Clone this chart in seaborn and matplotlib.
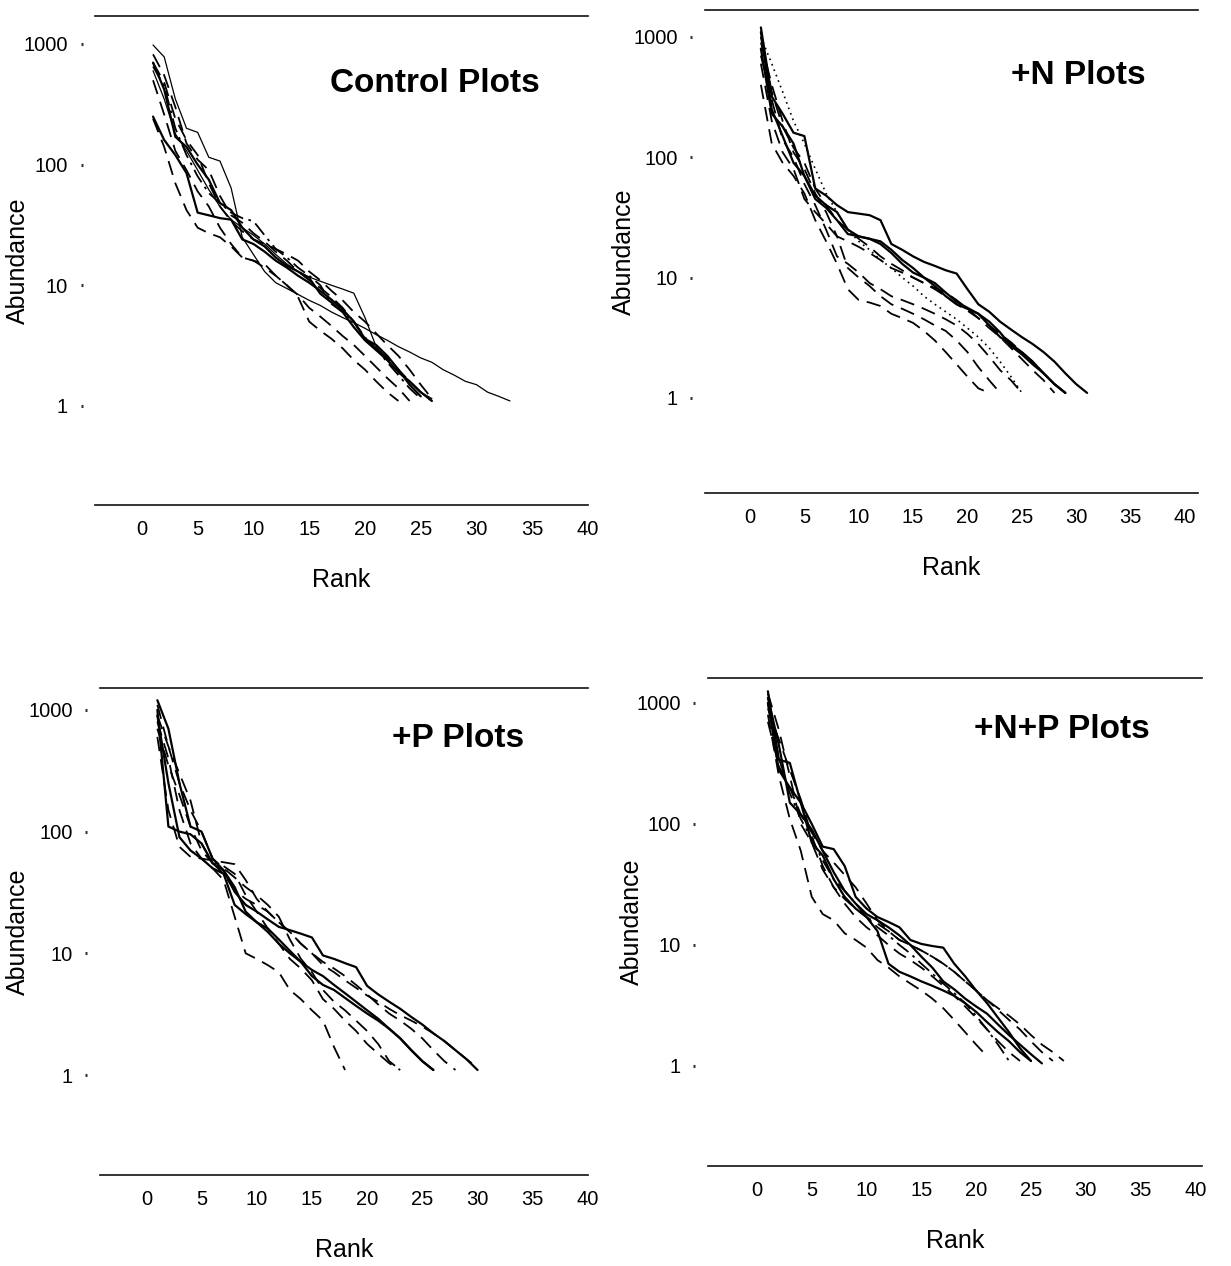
import matplotlib
matplotlib.use("Agg")
import matplotlib.pyplot as plt
import pandas as pd
import seaborn as sns

# ---------------------------------------------------------------------------
# Rank-abundance data: each inner list holds abundances for ranks 1, 2, 3, ...
# ---------------------------------------------------------------------------
PANEL_TITLES = ["Control Plots", "+N Plots", "+P Plots", "+N+P Plots"]
RANK_TICKS = [0, 5, 10, 15, 20, 25, 30, 35, 40]
ABUNDANCE_TICKS = [1, 10, 100, 1000]
ABUNDANCE_TICK_LABELS = ["1", "10", "100", "1000"]

CONTROL = [
    [980, 780, 350, 200, 185, 115, 107, 64, 25, 18, 13, 10.5, 9.4, 8.4, 7.5, 6.8, 6.0,
     5.4, 4.9, 4.4, 3.9, 3.5, 3.1, 2.8, 2.5, 2.3, 2.0, 1.8, 1.6, 1.5, 1.3, 1.2, 1.1],
    [700, 420, 170, 140, 100, 75, 48, 42, 30, 24, 21, 17, 14.5, 13, 11.5, 8.5, 7.2, 6.0,
     4.5, 3.5, 2.9, 2.4, 1.9, 1.6, 1.3, 1.1],
    [820, 550, 300, 150, 110, 90, 55, 38, 33, 27, 23, 19, 16, 13, 11, 9.5, 8.0, 6.5, 5.0,
     3.6, 3.0, 2.5, 2.0, 1.6, 1.3, 1.1],
    [600, 350, 180, 130, 90, 62, 45, 35, 30, 26, 22, 18, 15, 13, 11.7, 10.8, 10, 9.3, 8.6,
     5.4, 3.1, 2.4, 1.9, 1.6, 1.3, 1.15],
    [240, 140, 70, 42, 30, 27, 25, 21, 17, 16, 14, 12, 10, 8.3, 6.5, 5.5, 4.6, 3.8, 3.2,
     2.6, 2.1, 1.7, 1.4, 1.1],
    [250, 160, 120, 85, 40, 38, 36, 35, 24, 22, 19, 16, 14, 12, 10.5, 9, 7.6, 6.3, 5.0,
     3.6, 3.2, 2.6, 2.0, 1.5, 1.2],
    [650, 450, 200, 120, 80, 58, 48, 40, 36, 34, 26, 20, 17, 14, 12, 10, 7.0, 6.0, 5.0,
     3.7, 3.0, 2.3, 1.8, 1.4, 1.15],
    [500, 260, 130, 90, 60, 45, 30, 22, 17, 16, 15, 12, 10, 8, 5.0, 4.2, 3.6, 3.0, 2.4,
     2.0, 1.6, 1.3, 1.1],
    [700, 480, 240, 160, 120, 70, 45, 34, 28, 24, 22, 20, 18, 16, 13, 11, 9, 7.5, 6, 5, 4,
     3.2, 2.6, 2.0, 1.5, 1.15],
]
CONTROL_STYLES = ["thin", "solid", "dashed", "thin", "dashed", "solid", "dashdot", "dashed", "dashed"]

NITROGEN = [
    [1200, 320, 230, 160, 150, 55, 48, 40, 35, 34, 33, 30, 19, 17, 15, 13.5, 12.5, 11.5,
     10.8, 8.0, 6.0, 5.2, 4.3, 3.7, 3.2, 2.8, 2.4, 2.0, 1.6, 1.3, 1.1],
    [1100, 250, 150, 90, 70, 45, 38, 30, 23, 22, 21, 19, 16, 13, 11, 10, 9, 7.5, 6.3, 5.6,
     5.0, 4.3, 3.5, 2.7, 2.3, 1.9, 1.6, 1.3, 1.1],
    [900, 400, 200, 110, 80, 50, 35, 22, 20, 18, 16, 14, 12, 11, 10, 9, 8.2, 7.5, 6.5, 5.5,
     4.6, 3.8, 3.2, 2.6, 2.1, 1.7, 1.4, 1.1],
    [400, 130, 90, 70, 50, 30, 20, 13, 8, 6.5, 6.2, 5.8, 5.0, 4.6, 4.2, 3.6, 3.0, 2.4, 1.9,
     1.5, 1.2, 1.1],
    [700, 300, 140, 100, 60, 40, 25, 15, 13, 11, 9, 8, 7, 6.5, 6.0, 5.5, 5.0, 4.5, 4.0,
     3.4, 2.8, 2.2, 1.7, 1.4, 1.1],
    [1000, 350, 180, 120, 90, 55, 40, 30, 25, 21, 18, 15, 13, 11.5, 10, 9, 8, 7, 6, 5.3,
     4.6, 4.0, 3.4, 2.9, 2.4, 2.0, 1.6, 1.3, 1.1],
    [800, 230, 180, 130, 70, 48, 40, 35, 25, 22, 21, 20, 17, 14, 12, 10, 8.5, 7, 6, 5.5, 5,
     4, 3.2, 2.8, 2.4, 2.0, 1.6, 1.3, 1.1],
    [1000, 600, 350, 200, 130, 80, 50, 35, 25, 20, 17, 14, 12, 10, 8.5, 7.0, 6.0, 5.2,
     4.5, 3.8, 3.2, 2.6, 2.0, 1.5, 1.1],
    [600, 200, 110, 80, 45, 35, 28, 22, 12, 10, 8.5, 7, 6, 5.5, 5.0, 4.5, 4.0, 3.6, 3.0,
     2.4, 1.8, 1.4, 1.1],
]
NITROGEN_STYLES = ["solid", "solid", "dashed", "dashed", "dashed", "dashed", "solid", "dotted", "dashed"]

PHOSPHORUS = [
    [1200, 700, 250, 110, 100, 60, 48, 32, 25, 22, 19, 16.5, 15.5, 14.5, 13.5, 9.6, 9.0,
     8.3, 7.7, 5.4, 4.6, 4.0, 3.5, 3.0, 2.6, 2.2, 1.9, 1.6, 1.35, 1.1],
    [1000, 110, 100, 95, 80, 55, 48, 35, 22, 18, 15, 12, 10, 8.5, 7.3, 6.5, 5.5, 4.7, 4.0,
     3.4, 2.9, 2.4, 2.0, 1.6, 1.3, 1.1],
    [900, 500, 300, 180, 80, 55, 45, 33, 28, 25, 22, 18, 15, 12, 10, 8.0, 7.0, 6.0, 5.2,
     4.5, 4.0, 3.5, 3.1, 2.8, 2.5, 2.2, 1.9, 1.6, 1.35, 1.15],
    [800, 400, 150, 80, 60, 50, 40, 20, 10, 9, 8, 7, 5, 4.2, 3.4, 2.8, 1.7, 1.1],
    [700, 350, 200, 110, 70, 55, 52, 45, 30, 22, 16, 12, 9, 7.5, 6.0, 4.2, 3.5, 2.8, 2.3,
     1.8, 1.5, 1.25, 1.1],
    [900, 250, 90, 70, 60, 50, 45, 25, 21, 18, 16, 13, 10.5, 8.5, 6.5, 5.5, 5.0, 4.3, 3.7,
     3.2, 2.8, 2.4, 2.0, 1.6, 1.3, 1.1],
    [1100, 500, 250, 150, 100, 60, 50, 42, 35, 30, 25, 20, 13, 9, 7, 5, 4.0, 3.4, 2.8,
     2.3, 1.8, 1.3, 1.1],
    [600, 150, 75, 62, 60, 58, 56, 54, 40, 28, 22, 18, 15, 12, 10, 8.5, 7.5, 6.5, 5.5,
     4.6, 3.8, 3.2, 2.8, 2.4, 2.0, 1.6, 1.3, 1.1],
]
PHOSPHORUS_STYLES = ["solid", "solid", "dashed", "dashed", "dashed", "solid", "dashed", "dashed"]

NITROGEN_PHOSPHORUS = [
    [1250, 340, 320, 150, 100, 65, 62, 45, 25, 20, 17, 15.5, 14, 11, 10.2, 9.8, 9.5, 7.0,
     5.5, 4.2, 3.3, 2.5, 1.9, 1.4, 1.1],
    [1100, 450, 150, 120, 90, 60, 40, 28, 22, 18, 16, 14, 12, 10, 8, 6.5, 5, 4.3, 3.6,
     3.1, 2.7, 2.2, 1.8, 1.5, 1.25, 1.05],
    [900, 500, 280, 160, 80, 45, 30, 24, 20, 17, 15, 13, 11, 10, 9.0, 8.0, 7.0, 6.0, 5.0,
     4.2, 3.5, 3.0, 2.6, 2.2, 1.8, 1.5, 1.3, 1.1],
    [800, 250, 110, 60, 25, 18, 16, 12.5, 11, 9.5, 7.5, 6.5, 5.5, 4.8, 4.2, 3.6, 3.0,
     2.4, 1.9, 1.5, 1.2],
    [1000, 280, 200, 150, 70, 55, 35, 25, 20, 17, 13, 7, 6.0, 5.5, 5.0, 4.6, 4.2, 3.8,
     3.3, 2.8, 2.3, 1.9, 1.6, 1.3, 1.1],
    [1200, 600, 250, 100, 70, 42, 30, 22, 17, 14, 12, 10, 8.5, 7.5, 6.5, 5.5, 4.6, 3.8,
     3.1, 2.5, 2.0, 1.6, 1.3, 1.1],
    [700, 300, 200, 120, 85, 60, 48, 38, 30, 22, 16, 13, 11, 10, 9, 8, 7, 6, 5, 4.2, 3.5,
     2.9, 2.4, 2.0, 1.6, 1.3, 1.1],
    [1000, 350, 180, 110, 75, 50, 35, 28, 22, 17, 14, 12, 10, 8.5, 7, 5.8, 4.8, 4.0, 3.3,
     2.6, 2.0, 1.5, 1.1],
]
NITROGEN_PHOSPHORUS_STYLES = ["solid", "solid", "dashed", "dashed", "solid", "dashed", "dashed", "dashdot"]

# line appearance for each style keyword
LINE_KW = {
    "solid": dict(linestyle="-", linewidth=1.6),
    "thin": dict(linestyle="-", linewidth=0.9),
    "dashed": dict(linestyle=(0, (8, 4.5)), linewidth=1.3),
    "dashdot": dict(linestyle=(0, (8, 3, 1.5, 3)), linewidth=1.3),
    "dotted": dict(linestyle=(0, (1, 2.5)), linewidth=1.2),
}

# ---------------------------------------------------------------------------
sns.set_theme(style="white")
plt.rcParams["font.family"] = ["Liberation Sans", "DejaVu Sans"]
plt.rcParams["text.color"] = "black"
plt.rcParams["axes.labelcolor"] = "black"
plt.rcParams["xtick.color"] = "black"
plt.rcParams["ytick.color"] = "black"

fig = plt.figure(figsize=(12.31, 12.66), dpi=100)

# [left, bottom, width, height], x-range, y-range, title position, y-label x
panels = [
    dict(rect=[0.0772, 0.6011, 0.4005, 0.3863], xlim=(-4.2, 39.8), ylim=(0.151, 1706),
         title_xy=(0.69, 0.861), ylab_x=-0.132, curves=CONTROL, styles=CONTROL_STYLES),
    dict(rect=[0.5727, 0.6106, 0.4005, 0.3815], xlim=(-4.14, 41.2), ylim=(0.162, 1675),
         title_xy=(0.757, 0.865), ylab_x=-0.14, curves=NITROGEN, styles=NITROGEN_STYLES),
    dict(rect=[0.0812, 0.0719, 0.3964, 0.3847], xlim=(-4.2, 39.4), ylim=(0.151, 1514),
         title_xy=(0.734, 0.897), ylab_x=-0.143, curves=PHOSPHORUS, styles=PHOSPHORUS_STYLES),
    dict(rect=[0.5751, 0.0790, 0.4013, 0.3855], xlim=(-4.47, 40.6), ylim=(0.149, 1611),
         title_xy=(0.717, 0.895), ylab_x=-0.13, curves=NITROGEN_PHOSPHORUS,
         styles=NITROGEN_PHOSPHORUS_STYLES),
]

for title, p in zip(PANEL_TITLES, panels):
    ax = fig.add_axes(p["rect"])
    for values, style in zip(p["curves"], p["styles"]):
        df = pd.DataFrame({"rank": range(1, len(values) + 1), "abundance": values})
        sns.lineplot(data=df, x="rank", y="abundance", ax=ax, color="black",
                     estimator=None, sort=False, legend=False, **LINE_KW[style])

    ax.set_yscale("log")
    ax.set_xlim(*p["xlim"])
    ax.set_ylim(*p["ylim"])
    ax.set_xticks(RANK_TICKS)
    ax.set_xticklabels([str(t) for t in RANK_TICKS])
    ax.set_yticks(ABUNDANCE_TICKS)
    ax.set_yticklabels(ABUNDANCE_TICK_LABELS)
    ax.minorticks_off()

    for side in ("left", "right"):
        ax.spines[side].set_visible(False)
    ax.spines["left"].set_position(("outward", 9))
    for side in ("top", "bottom"):
        ax.spines[side].set_visible(True)
        ax.spines[side].set_color("#111111")
        ax.spines[side].set_linewidth(1.2)

    ax.tick_params(axis="y", which="major", left=True, length=1.6, width=2.2,
                   direction="out", color="#333333", pad=9, labelsize=14.5)
    ax.tick_params(axis="x", which="major", bottom=True, length=0, pad=11, labelsize=14.5)

    ax.set_xlabel("Rank", fontsize=18, labelpad=21)
    ax.set_ylabel("Abundance", fontsize=18)
    ax.yaxis.set_label_coords(p["ylab_x"], 0.5)

    ax.text(p["title_xy"][0], p["title_xy"][1], title, transform=ax.transAxes,
            ha="center", va="center", fontsize=24, fontweight="bold", color="black")
    ax.grid(False)

fig.savefig("out.png", dpi=100, facecolor="white")
